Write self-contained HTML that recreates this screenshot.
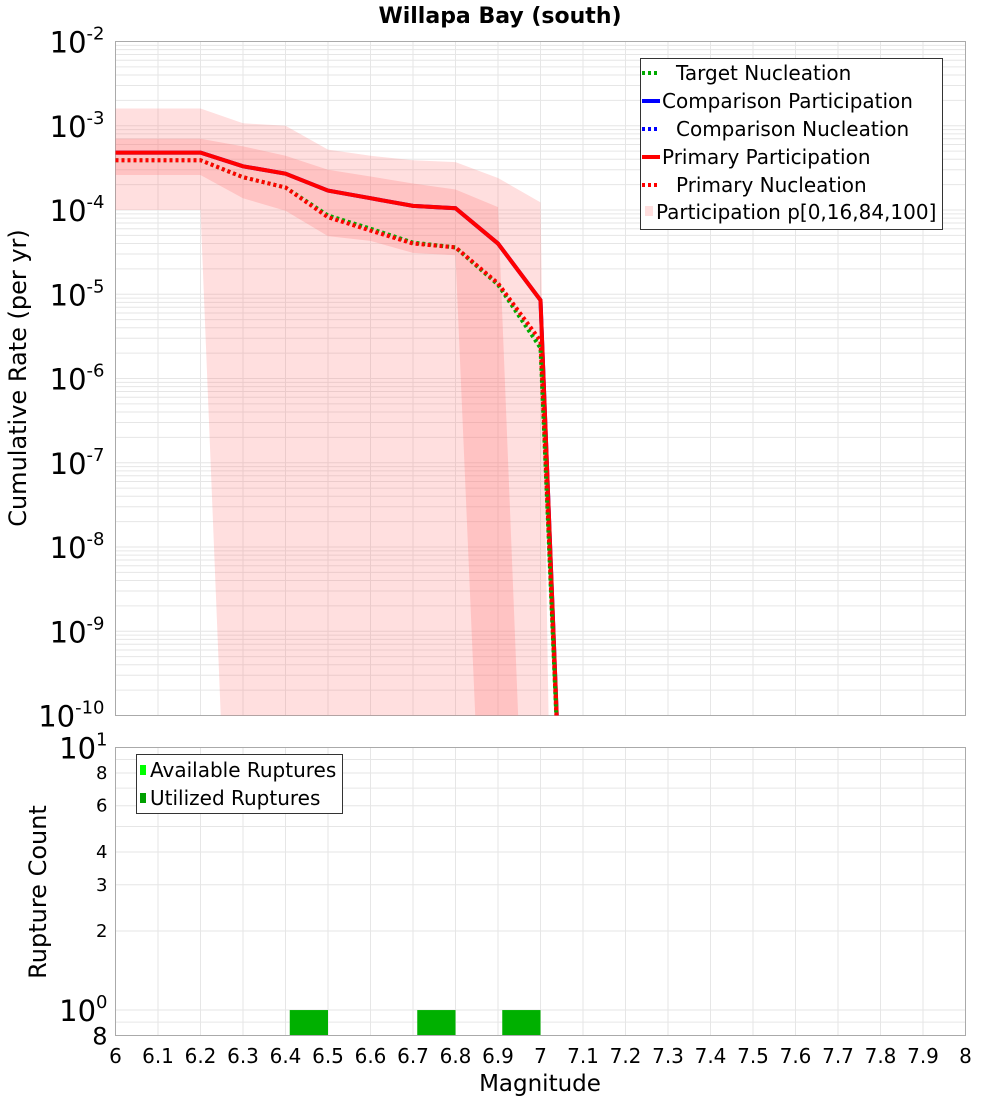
<!DOCTYPE html>
<html><head><meta charset="utf-8"><style>
html,body{margin:0;padding:0;background:#fff;overflow:hidden;width:1000px;height:1100px;font-family:"Liberation Sans","DejaVu Sans",sans-serif}
svg{display:block}
svg text{font-family:"DejaVu Sans","Liberation Sans",sans-serif}
</style></head><body>
<svg id="c" width="1000" height="1100" xmlns="http://www.w3.org/2000/svg"></svg>
<script>
const mags=[6.0,6.1,6.2,6.3,6.4,6.5,6.6,6.7,6.8,6.9,7.0,7.05];
const primPart=[4.8e-4,4.8e-4,4.8e-4,3.3e-4,2.7e-4,1.7e-4,1.38e-4,1.12e-4,1.05e-4,4e-5,8.5e-6,3e-12];
const primNucl=[3.9e-4,3.9e-4,3.9e-4,2.45e-4,1.85e-4,8.2e-5,5.7e-5,4e-5,3.6e-5,1.35e-5,2.8e-6,3e-12];
const targNucl=[3.9e-4,3.9e-4,3.9e-4,2.45e-4,1.85e-4,8.6e-5,6e-5,4.1e-5,3.6e-5,1.3e-5,2.3e-6,3e-12];
const p100=[1.6e-3,1.6e-3,1.6e-3,1.07e-3,1e-3,5.2e-4,4.4e-4,3.9e-4,3.7e-4,2.4e-4,1.23e-4,1e-20];
const p84=[7e-4,7e-4,7e-4,5.7e-4,4.4e-4,3e-4,2.5e-4,2.06e-4,1.75e-4,1.08e-4,2e-17,1e-20];
const p16=[2.6e-4,2.6e-4,2.6e-4,1.38e-4,9.8e-5,4.9e-5,4.3e-5,3.1e-5,2.9e-5,5e-17,1e-20,1e-20];
const p0=[1e-4,1e-4,1e-4,2.5e-17,1e-20,1e-20,1e-20,1e-20,1e-20,1e-20,1e-20,1e-20];
const barStarts=[6.41,6.71,6.91];
const barEnds=[6.5,6.8,7.0];
const barCounts=[1,1,1];
const xTicks=[6,6.1,6.2,6.3,6.4,6.5,6.6,6.7,6.8,6.9,7,7.1,7.2,7.3,7.4,7.5,7.6,7.7,7.8,7.9,8];
const xTickLabels=["6","6.1","6.2","6.3","6.4","6.5","6.6","6.7","6.8","6.9","7","7.1","7.2","7.3","7.4","7.5","7.6","7.7","7.8","7.9","8"];
const yExps=[-2,-3,-4,-5,-6,-7,-8,-9,-10];
const cTicks=[8,6,4,3,2];

const NS="http://www.w3.org/2000/svg",svg=document.getElementById('c');
const L=115.5,R=965.5,T1=41.5,B1=715.5,T2=747.5,B2=1035.5;
const X=m=>L+(m-6)/2*(R-L);
const Y1=v=>T1+(-2-Math.log10(v))*(B1-T1)/8;
const lmin=Math.log10(0.8);
const Y2=v=>B2-(Math.log10(v)-lmin)/(1-lmin)*(B2-T2);
function el(t,a,p){const e=document.createElementNS(NS,t);for(const k in a)e.setAttribute(k,a[k]);(p||svg).appendChild(e);return e;}
function tx(x,y,s,sz,anc,extra){const e=el('text',Object.assign({x:x,y:y,'font-size':sz,'text-anchor':anc||'start',fill:'#000'},extra||{}));e.textContent=s;return e;}
const defs=el('defs',{});
const cp1=el('clipPath',{id:'cp1'},defs);el('rect',{x:L,y:T1,width:R-L,height:B1-T1},cp1);

const g1=el('g',{});


el('rect',{x:L,y:T1,width:R-L,height:B1-T1,fill:'#fff'},g1);
const g2=el('g',{});


el('rect',{x:L,y:T2,width:R-L,height:B2-T2,fill:'#fff'},g2);
xTicks.forEach(m=>{
  el('line',{x1:X(m),x2:X(m),y1:T1,y2:B1,stroke:'#e6e6e6'},g1);
  el('line',{x1:X(m),x2:X(m),y1:T2,y2:B2,stroke:'#e6e6e6'},g2);
});
for(let e=-10;e<-2;e++)for(let k=1;k<10;k++){const y=Y1(k*Math.pow(10,e));el('line',{x1:L,x2:R,y1:y,y2:y,stroke:'#e6e6e6'},g1);}
[0.8,0.9,1,2,3,4,5,6,7,8,9,10].forEach(v=>{const y=Y2(v);el('line',{x1:L,x2:R,y1:y,y2:y,stroke:'#e6e6e6'},g2);});

const gc=el('g',{'clip-path':'url(#cp1)'});
function band(up,lo,col,name){
  let pts=mags.map((m,i)=>X(m)+','+Math.min(Y1(up[i]),3000)).concat(mags.slice().reverse().map((m,j)=>{const i=mags.length-1-j;return X(m)+','+Math.min(Y1(lo[i]),3000);}));
  const p=el('polygon',{points:pts.join(' '),fill:col},gc);
  
  
}
band(p100,p0,'rgba(255,110,110,0.22)','band-p0-p100');
band(p84,p16,'rgba(255,110,110,0.25)','band-p16-p84');
function line(vals,col,dash,w,name){
  const p=el('polyline',{points:mags.map((m,i)=>X(m)+','+Math.min(Y1(vals[i]),3000)).join(' '),fill:'none',stroke:col,'stroke-width':w,'stroke-dasharray':dash||'none'},gc);
  
  
}
line(primPart,'#0000ff','',4,'comparison-participation-line');
line(primPart,'#ff0000','',4,'primary-participation-line');
line(targNucl,'#00aa00','3,3',4,'target-nucleation-line');
line(primNucl,'#ff0000','3,3',4,'primary-nucleation-line');

el('rect',{x:L,y:T1,width:R-L,height:B1-T1,fill:'none',stroke:'#aaa'},g1);
barStarts.forEach((s,i)=>{
  const r=el('rect',{x:X(s),y:Y2(barCounts[i]),width:X(barEnds[i])-X(s),height:B2-Y2(barCounts[i]),fill:'#00b000'});
  
  
});
el('rect',{x:L,y:T2,width:R-L,height:B2-T2,fill:'none',stroke:'#aaa'});

yExps.forEach(e=>{const t=tx(L-11,Y1(Math.pow(10,e))+11,'',29,'end');t.innerHTML='10<tspan dy="-13" font-size="18">'+e+'</tspan>';});
[[10,'1'],[1,'0']].forEach(a=>{const t=tx(L-8,Y2(a[0])+11,'',29,'end');t.innerHTML='10<tspan dy="-13" font-size="18">'+a[1]+'</tspan>';});
cTicks.forEach(v=>tx(L-8,Y2(v)+6,String(v),18,'end'));
tx(L-8,B2+9,'8',24,'end');
xTicks.forEach((m,i)=>tx(X(m),1063,xTickLabels[i],20,'middle'));
tx(540,1091,'Magnitude',23,'middle');
tx(26,378,'Cumulative Rate (per yr)',24,'middle',{transform:'rotate(-90 26 378)'});
tx(46,892,'Rupture Count',24,'middle',{transform:'rotate(-90 46 892)'});
tx(500,23,'Willapa Bay (south)',22,'middle',{'font-weight':'bold'});

const lg=el('g',{});


el('rect',{x:640.5,y:58.5,width:302,height:171,fill:'#fff',stroke:'#333'},lg);
const ent=[['Target Nucleation','#00aa00',1,676],['Comparison Participation','#0000ff',0,662],['Comparison Nucleation','#0000ff',1,676],['Primary Participation','#ff0000',0,662],['Primary Nucleation','#ff0000',1,676]];
ent.forEach((e,i)=>{const y=73+i*28;
  el('line',{x1:642,x2:660,y1:y,y2:y,stroke:e[1],'stroke-width':4,'stroke-dasharray':e[2]?'3,3':'none'},lg);
  tx(e[3],y+7,e[0],20,'start',{});
});
el('rect',{x:645,y:206,width:8,height:10,fill:'#ffdede'},lg);
tx(656,219,'Participation p[0,16,84,100]',20);
const lg2=el('g',{});


el('rect',{x:136.5,y:754.5,width:206,height:59,fill:'#fff',stroke:'#333'},lg2);
el('rect',{x:140,y:765,width:6,height:10,fill:'#00ff00'},lg2);
tx(150,777,'Available Ruptures',20);
el('rect',{x:140,y:793,width:6,height:10,fill:'#00a000'},lg2);
tx(150,805,'Utilized Ruptures',20);
</script>
</body></html>
